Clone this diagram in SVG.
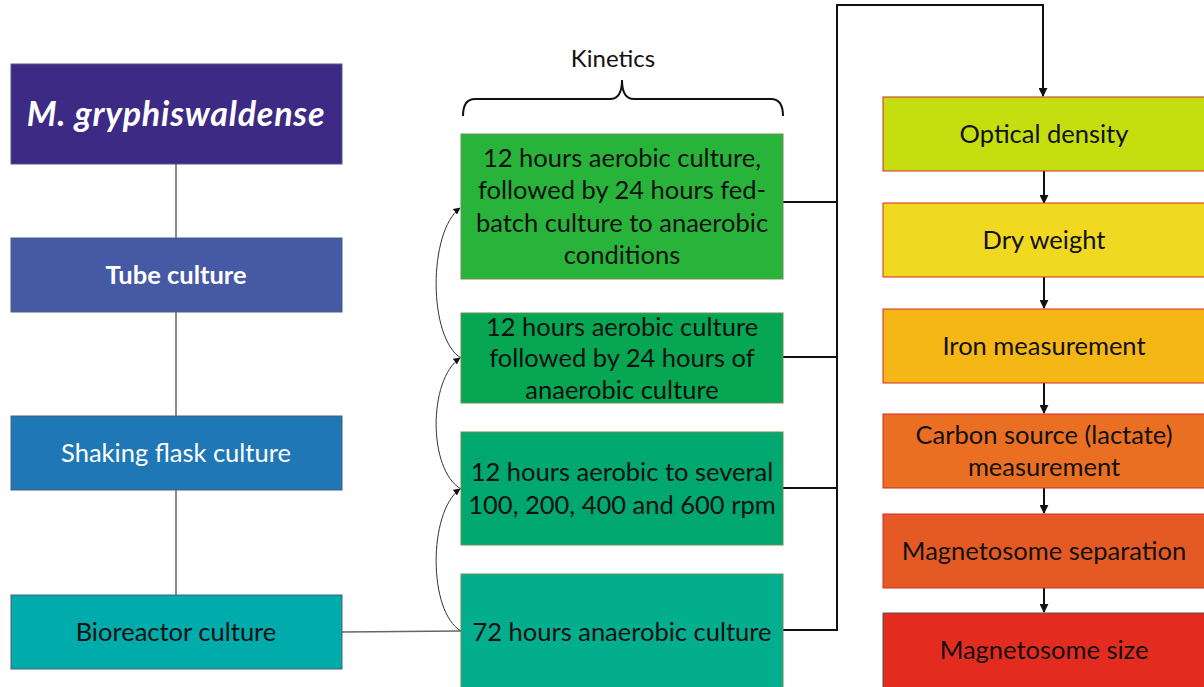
<svg xmlns="http://www.w3.org/2000/svg" width="1204" height="687" viewBox="0 0 1204 687">
  <style>
    .lbox { stroke: #46607e; stroke-width: 1; }
    .mbox { stroke: #6f8f55; stroke-width: 1; }
    .rbox { stroke: #d42a2a; stroke-width: 1; }
    .t { font-family: "Lato", "Open Sans", sans-serif; font-size: 25.5px; text-anchor: middle; fill: #111; }
    .w { fill: #fff; }
    .grey { stroke: #666; stroke-width: 1.5; fill: none; }
    .blk { stroke: #111; stroke-width: 2; fill: none; }
    .curve { stroke: #333; stroke-width: 1; fill: none; }
  </style>
  <defs>
    <marker id="ah" viewBox="0 0 10 10" refX="9" refY="5" markerWidth="7" markerHeight="7" markerUnits="userSpaceOnUse" orient="auto">
      <path d="M0,0 L10,5 L0,10 z" fill="#111"/>
    </marker>
    <marker id="ahs" viewBox="0 0 10 10" refX="9" refY="5" markerWidth="9" markerHeight="9" markerUnits="userSpaceOnUse" orient="auto">
      <path d="M0,0 L10,5 L0,10 z" fill="#111"/>
    </marker>
  </defs>
  <rect width="1204" height="687" fill="#fff"/>

  <g id="connectors">
    <!-- culture scale-up chain -->
    <line class="grey" x1="176" y1="164" x2="176" y2="595"/>
    <line class="grey" x1="342" y1="632" x2="461" y2="631"/>
    <!-- kinetics bracket -->
    <path class="blk" stroke-width="1.6" d="M463,116 Q463,99 475,99 L610,99 Q622,99 622,80 Q622,99 634,99 L771,99 Q783,99 783,116"/>
    <!-- curved links between culture modes -->
    <path class="curve" marker-end="url(#ah)" d="M461,631 C428,612 428,512 460,489"/>
    <path class="curve" marker-end="url(#ah)" d="M461,489 C428,470 428,380 460,358"/>
    <path class="curve" marker-end="url(#ah)" d="M461,358 C428,338 428,232 460,208"/>
    <!-- collector to analytics -->
    <path class="blk" d="M783,202 H837"/>
    <path class="blk" d="M783,357 H837"/>
    <path class="blk" d="M783,488 H837"/>
    <path class="blk" d="M783,630 H837 V5 H1043 V96" marker-end="url(#ahs)"/>
    <!-- analytics chain -->
    <line class="blk" x1="1044" y1="171" x2="1044" y2="203" marker-end="url(#ahs)"/>
    <line class="blk" x1="1044" y1="277" x2="1044" y2="308" marker-end="url(#ahs)"/>
    <line class="blk" x1="1044" y1="383" x2="1044" y2="413" marker-end="url(#ahs)"/>
    <line class="blk" x1="1044" y1="488" x2="1044" y2="513" marker-end="url(#ahs)"/>
    <line class="blk" x1="1044" y1="588" x2="1044" y2="612" marker-end="url(#ahs)"/>
  </g>

  <text class="t" x="613" y="67" style="font-size:24px">Kinetics</text>

  <g id="strain">
    <rect class="lbox" x="11" y="64" width="331" height="100" fill="#3c2a84"/>
    <text class="t w" x="176" y="126" style="font-size:34px;font-weight:bold;font-style:italic;letter-spacing:0.8px">M. gryphiswaldense</text>
  </g>
  <g id="tube">
    <rect class="lbox" x="11" y="238" width="331" height="74" fill="#4659a4"/>
    <text class="t w" x="176" y="284" style="font-weight:bold">Tube culture</text>
  </g>
  <g id="flask">
    <rect class="lbox" x="11" y="416" width="331" height="74" fill="#1f77b5"/>
    <text class="t w" x="176" y="462">Shaking flask culture</text>
  </g>
  <g id="bioreactor">
    <rect class="lbox" x="11" y="595" width="331" height="74" fill="#00abab"/>
    <text class="t" x="176" y="641">Bioreactor culture</text>
  </g>

  <g id="fedbatch">
    <rect class="mbox" x="461" y="134" width="322" height="145" fill="#28b33b"/>
    <text class="t" x="622" y="167">12 hours aerobic culture,</text>
    <text class="t" x="622" y="199">followed by 24 hours fed-</text>
    <text class="t" x="622" y="232">batch culture to anaerobic</text>
    <text class="t" x="622" y="264">conditions</text>
  </g>
  <g id="aerobic-anaerobic">
    <rect class="mbox" x="461" y="313" width="322" height="90" fill="#06a653"/>
    <text class="t" x="622" y="336">12 hours aerobic culture</text>
    <text class="t" x="622" y="367">followed by 24 hours of</text>
    <text class="t" x="622" y="399">anaerobic culture</text>
  </g>
  <g id="rpm">
    <rect class="mbox" x="461" y="432" width="322" height="113" fill="#00a76e"/>
    <text class="t" x="622" y="481">12 hours aerobic to several</text>
    <text class="t" x="622" y="514">100, 200, 400 and 600 rpm</text>
  </g>
  <g id="anaerobic">
    <rect class="mbox" x="461" y="574" width="322" height="120" fill="#03ae8e"/>
    <text class="t" x="622" y="641">72 hours anaerobic culture</text>
  </g>

  <g id="optical-density">
    <rect class="rbox" x="883" y="97" width="325" height="74" fill="#c5de10"/>
    <text class="t" x="1044" y="143">Optical density</text>
  </g>
  <g id="dry-weight">
    <rect class="rbox" x="883" y="203" width="325" height="74" fill="#f0d920"/>
    <text class="t" x="1044" y="249">Dry weight</text>
  </g>
  <g id="iron">
    <rect class="rbox" x="883" y="309" width="325" height="74" fill="#f5b715"/>
    <text class="t" x="1044" y="355">Iron measurement</text>
  </g>
  <g id="carbon">
    <rect class="rbox" x="883" y="414" width="325" height="74" fill="#ea6f22"/>
    <text class="t" x="1044" y="444">Carbon source (lactate)</text>
    <text class="t" x="1044" y="476">measurement</text>
  </g>
  <g id="separation">
    <rect class="rbox" x="883" y="514" width="325" height="74" fill="#e55a24"/>
    <text class="t" x="1044" y="560">Magnetosome separation</text>
  </g>
  <g id="size">
    <rect x="883" y="613" width="325" height="80" fill="#e42b20" stroke="#555" stroke-width="1"/>
    <text class="t" x="1044" y="659">Magnetosome size</text>
  </g>
</svg>
